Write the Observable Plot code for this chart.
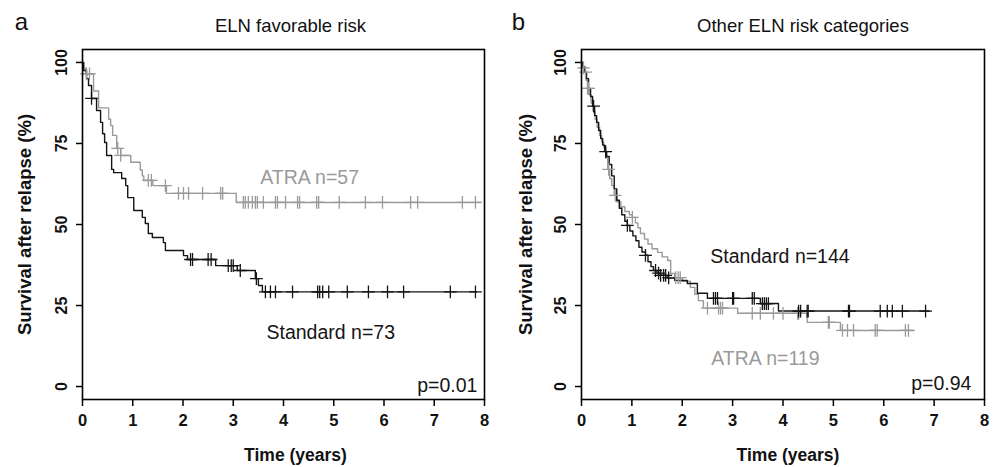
<!DOCTYPE html>
<html><head><meta charset="utf-8">
<script src="https://cdn.jsdelivr.net/npm/d3@7"></script>
<script src="https://cdn.jsdelivr.net/npm/@observablehq/plot@0.6"></script>
<style>
body{margin:0;background:#fff;}
#wrap{display:flex;width:994px;height:467px;overflow:hidden;}
</style></head><body><div id="wrap"></div>
<script>
// ---- data ----
const xTicks = [0,1,2,3,4,5,6,7,8];
const yTicks = [0,25,50,75,100];
const panelTitles = ["ELN favorable risk", "Other ELN risk categories"];
const panelLetters = ["a", "b"];
const pValues = ["p=0.01", "p=0.94"];
const groupLabelsA = ["ATRA n=57", "Standard n=73"];
const groupLabelsB = ["ATRA n=119", "Standard n=144"];

// Panel a: step points [time (years), survival %]
const atraA = [[0,100],[0.03,98.2],[0.06,96.5],[0.22,91.2],[0.32,86.0],[0.52,82.5],[0.56,80.5],[0.6,77.5],[0.68,73.5],[0.76,71.3],[0.96,69.2],[1.15,66.8],[1.19,65.0],[1.22,63.6],[1.4,62.0],[1.67,59.6],[3.06,56.8]];
const atraAEnd = 7.92;
const atraACens = [0.08,0.14,0.7,0.76,1.31,1.37,1.65,1.91,2.01,2.11,2.39,2.75,2.79,3.2,3.24,3.3,3.38,3.44,3.48,3.6,3.84,3.88,4.04,4.28,4.32,4.66,4.7,5.11,5.63,5.97,6.53,6.67,7.56,7.82];

const stdA = [[0,100],[0.02,97.5],[0.08,95.0],[0.12,92.9],[0.18,88.9],[0.28,85.2],[0.36,81.5],[0.4,78.0],[0.44,75.3],[0.48,71.3],[0.58,67.0],[0.62,66.0],[0.78,64.2],[0.86,62.0],[0.9,58.3],[1.02,54.3],[1.19,52.2],[1.25,50.3],[1.31,47.2],[1.39,46.0],[1.61,44.4],[1.65,42.0],[2.01,40.4],[2.09,39.2],[2.65,37.3],[3.08,35.8],[3.44,33.3],[3.5,31.2],[3.58,29.2]];
const stdAEnd = 7.84;
const stdACens = [0.18,2.15,2.19,2.5,2.56,2.9,2.96,3.0,3.14,3.46,3.64,3.74,3.84,4.18,4.68,4.72,4.78,4.9,5.27,5.69,6.07,6.39,7.32,7.82];

// Panel b
const atraB = [[0,100],[0.02,98.3],[0.05,97.0],[0.09,94.5],[0.12,92.0],[0.15,90.0],[0.19,87.5],[0.23,85.0],[0.27,82.5],[0.31,80.0],[0.36,77.5],[0.4,75.5],[0.44,73.8],[0.48,70.5],[0.52,67.0],[0.56,64.2],[0.6,62.0],[0.65,59.0],[0.7,57.0],[0.78,55.5],[0.86,54.0],[0.95,53.0],[1.01,52.2],[1.07,50.5],[1.12,49.0],[1.17,47.2],[1.25,45.5],[1.32,44.0],[1.4,42.5],[1.51,41.4],[1.6,40.0],[1.71,38.9],[1.77,34.9],[1.85,33.6],[2.0,32.5],[2.16,30.6],[2.25,28.5],[2.32,26.5],[2.42,24.2],[3.1,22.6],[4.48,19.8],[5.14,17.3]];
const atraBEnd = 6.59;
const atraBCens = [0.04,0.08,0.12,0.14,0.54,0.67,1.01,1.87,1.92,1.96,2.5,2.72,2.76,2.8,3.39,3.55,3.81,4.0,4.29,4.31,4.9,4.92,5.18,5.28,5.4,5.83,5.87,6.43,6.49];

const stdB = [[0,100],[0.03,98.6],[0.06,97.0],[0.1,95.0],[0.14,92.0],[0.18,89.5],[0.22,86.5],[0.26,83.6],[0.3,81.5],[0.34,79.0],[0.38,76.5],[0.42,74.5],[0.46,72.5],[0.5,71.0],[0.55,68.5],[0.6,65.0],[0.65,61.0],[0.7,57.5],[0.75,55.0],[0.8,53.0],[0.86,51.0],[0.91,49.7],[0.96,48.0],[1.02,46.5],[1.08,45.0],[1.14,43.0],[1.2,41.5],[1.27,40.5],[1.32,38.5],[1.38,37.0],[1.43,35.8],[1.5,35.0],[1.57,34.3],[1.7,33.5],[1.85,32.7],[2.1,31.8],[2.3,28.8],[2.5,27.2],[3.55,25.6],[3.91,23.3]];
const stdBEnd = 6.9;
const stdBCens = [0.24,0.48,0.91,1.27,1.47,1.53,1.57,1.63,1.67,1.73,2.62,2.66,2.7,3.0,3.02,3.39,3.43,3.59,3.63,3.67,3.71,4.31,4.35,4.48,4.5,5.3,5.32,5.93,6.07,6.17,6.37,6.83];

// ---- drawing ----
const GRAY = "#9a9a9a", BLACK = "#151515";
const FONT = "'Liberation Sans', Arial, Helvetica, sans-serif";

function stepAt(curve, t) {
  let s = curve[0][1];
  for (const [ct, cs] of curve) { if (ct <= t) s = cs; else break; }
  return s;
}
function withEnd(curve, end) { return [...curve, [end, curve[curve.length-1][1]]]; }
function cens(curve, times) { return times.map(t => [t, stepAt(curve, t)]); }

function panel(cfg) {
  const ml = cfg.ml, mr = cfg.mr;
  return Plot.plot({
    width: 497, height: 467,
    marginLeft: ml, marginRight: mr, marginTop: 49, marginBottom: 68,
    x: {domain: [0, 8]},
    y: {domain: [-4, 104]},
    style: {fontFamily: FONT, overflow: "visible", background: "#fff"},
    marks: [
      Plot.axisX({ticks: xTicks, tickSize: 7, tickPadding: 8, fontSize: 16.5, fontWeight: "bold", label: null, stroke: "#000", strokeWidth: 1.5, fill: "#111"}),
      Plot.axisY({ticks: yTicks, tickSize: 6, tickPadding: 10, tickRotate: -90, fontSize: 16, fontWeight: "bold", label: null, stroke: "#000", strokeWidth: 1.5, fill: "#111"}),
      Plot.line(withEnd(cfg.atra, cfg.atraEnd), {x: d => d[0], y: d => d[1], curve: "step-after", stroke: GRAY, strokeWidth: 1.4}),
      Plot.line(withEnd(cfg.std, cfg.stdEnd), {x: d => d[0], y: d => d[1], curve: "step-after", stroke: BLACK, strokeWidth: 1.4}),
      Plot.dot(cens(cfg.atra, cfg.atraCens), {x: d => d[0], y: d => d[1], symbol: "plus", r: 4.2, stroke: GRAY, strokeWidth: 1.3}),
      Plot.dot(cens(cfg.std, cfg.stdCens), {x: d => d[0], y: d => d[1], symbol: "plus", r: 4.2, stroke: BLACK, strokeWidth: 1.3}),
      Plot.text([cfg.labels[0]], {x: cfg.atraLab[0], y: cfg.atraLab[1], text: d => d, fill: GRAY, fontSize: 19.5, textAnchor: "middle"}),
      Plot.text([cfg.labels[1]], {x: cfg.stdLab[0], y: cfg.stdLab[1], text: d => d, fill: BLACK, fontSize: 19.5, textAnchor: "middle"}),
      Plot.text([cfg.p], {x: cfg.pLab[0], y: cfg.pLab[1], text: d => d, fill: BLACK, fontSize: 19.5, textAnchor: "end"}),
      Plot.frame({stroke: "#000", strokeWidth: 1.6}),
      Plot.text([cfg.title], {frameAnchor: "top", dy: -23, dx: cfg.titleDx, lineAnchor: "middle", text: d => d, fontSize: 18.5, fill: "#111"}),
      Plot.text([cfg.letter], {frameAnchor: "top-left", dx: cfg.letterDx, dy: -27, lineAnchor: "middle", text: d => d, fontSize: 24, fill: "#111", textAnchor: "middle"}),
      Plot.text(["Survival after relapse (%)"], {frameAnchor: "left", dx: cfg.ylabDx, rotate: -90, textAnchor: "middle", lineAnchor: "middle", text: d => d, fontSize: 18.5, fontWeight: "bold", fill: "#111"}),
      Plot.text(["Time (years)"], {frameAnchor: "bottom", dy: 56, dx: cfg.xlabDx, lineAnchor: "middle", text: d => d, fontSize: 17.5, fontWeight: "bold", fill: "#111"})
    ]
  });
}

const wrap = document.getElementById("wrap");
wrap.append(panel({
  ml: 82, mr: 13,
  atra: atraA, atraEnd: atraAEnd, atraCens: atraACens,
  std: stdA, stdEnd: stdAEnd, stdCens: stdACens,
  labels: groupLabelsA, atraLab: [4.52, 64.5], stdLab: [4.94, 16.7], pLab: [7.86, 0.3],
  p: pValues[0], title: panelTitles[0], letter: panelLetters[0],
  titleDx: 7, letterDx: -61, ylabDx: -57, xlabDx: 12
}));
wrap.append(panel({
  ml: 84, mr: 10,
  atra: atraB, atraEnd: atraBEnd, atraCens: atraBCens,
  std: stdB, stdEnd: stdBEnd, stdCens: stdBCens,
  labels: groupLabelsB, atraLab: [3.65, 8.6], stdLab: [3.94, 40.1], pLab: [7.74, 0.9],
  p: pValues[1], title: panelTitles[1], letter: panelLetters[1],
  titleDx: 20, letterDx: -63, ylabDx: -55, xlabDx: 5
}));
</script>
</body></html>
